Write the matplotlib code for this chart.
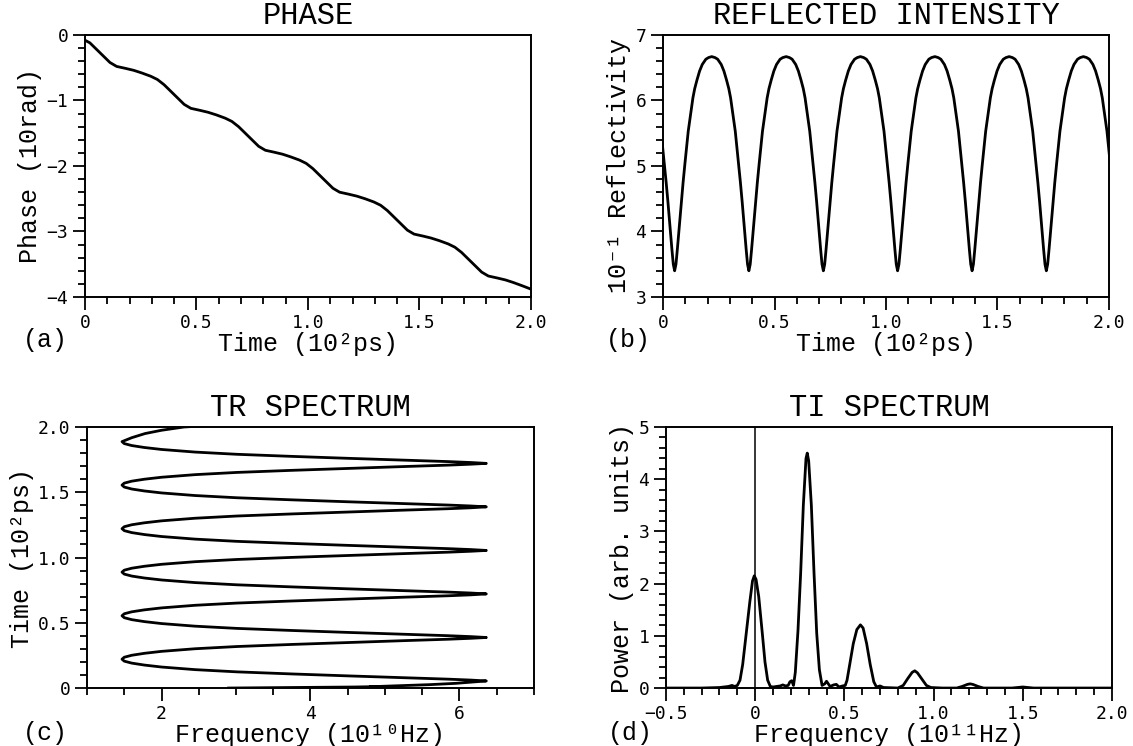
import matplotlib
matplotlib.use("Agg")
import matplotlib.pyplot as plt
from matplotlib.ticker import MultipleLocator

# ---------------- data ----------------
# (a) phase vs time
phase_time = [0.000, 0.022, 0.052, 0.082, 0.112, 0.142, 0.182, 0.219, 0.255, 0.295,
              0.325, 0.355, 0.385, 0.415, 0.445, 0.475, 0.515, 0.552, 0.589, 0.629,
              0.659, 0.689, 0.719, 0.749, 0.779, 0.809, 0.849, 0.886, 0.922, 0.962,
              0.992, 1.022, 1.052, 1.082, 1.112, 1.142, 1.182, 1.219, 1.256, 1.296,
              1.326, 1.356, 1.386, 1.416, 1.446, 1.476, 1.516, 1.552, 1.589, 1.629,
              1.659, 1.689, 1.719, 1.749, 1.779, 1.809, 1.849, 1.886, 1.922, 1.962,
              2.000]
phase_value = [-0.08, -0.12, -0.22, -0.32, -0.42, -0.48, -0.51, -0.54, -0.58, -0.63,
               -0.68, -0.76, -0.86, -0.96, -1.06, -1.12, -1.15, -1.18, -1.22, -1.27,
               -1.32, -1.40, -1.50, -1.60, -1.70, -1.76, -1.79, -1.82, -1.86, -1.91,
               -1.96, -2.04, -2.14, -2.24, -2.34, -2.40, -2.43, -2.46, -2.50, -2.55,
               -2.60, -2.68, -2.78, -2.88, -2.98, -3.04, -3.07, -3.10, -3.14, -3.19,
               -3.24, -3.32, -3.42, -3.52, -3.62, -3.68, -3.71, -3.74, -3.78, -3.83,
               -3.88]

# (b) reflectivity: one dip profile (offset from dip time, value) and the dip times
refl_offsets = [-0.1667, -0.152, -0.14, -0.124, -0.112, -0.10, -0.09, -0.082, -0.072,
                -0.061, -0.046, -0.038, -0.030, -0.019, -0.012, -0.006, 0.0,
                0.006, 0.012, 0.019, 0.030, 0.038, 0.046, 0.061, 0.072, 0.082,
                0.09, 0.10, 0.112, 0.124, 0.14, 0.152]
refl_profile = [6.67, 6.655, 6.63, 6.55, 6.45, 6.31, 6.18, 6.04, 5.80,
                5.53, 5.03, 4.75, 4.45, 4.00, 3.72, 3.50, 3.40,
                3.50, 3.72, 4.00, 4.45, 4.75, 5.03, 5.53, 5.80, 6.04,
                6.18, 6.31, 6.45, 6.55, 6.63, 6.655]
refl_dips = [0.052, 0.385, 0.719, 1.052, 1.386, 1.719, 2.052]

# (c) TR spectrum: one loop profile around the low-frequency turning point
tr_offsets = [-0.1667, -0.160, -0.153, -0.142, -0.128, -0.113, -0.097, -0.080,
              -0.060, -0.045, -0.030, -0.015, 0.0, 0.015, 0.030, 0.045, 0.060,
              0.080, 0.097, 0.113, 0.128, 0.142, 0.153, 0.160]
tr_profile = [6.36, 6.15, 5.85, 5.25, 4.51, 3.75, 3.01, 2.45,
              2.00, 1.77, 1.60, 1.50, 1.47, 1.50, 1.60, 1.77, 2.00,
              2.45, 3.01, 3.75, 4.51, 5.25, 5.85, 6.15]
tr_left_tips = [0.221, 0.554, 0.888, 1.221, 1.555]
tr_last_tip = 1.888
tr_start_time = [0.000, 0.004, 0.008, 0.012, 0.007, 0.010, 0.016, 0.026, 0.036, 0.045]
tr_start_freq = [2.90, 3.80, 4.60, 5.00, 5.10, 4.80, 5.10, 5.60, 5.95, 6.15]
tr_end_time = [1.918, 1.950, 1.975, 2.000, 2.010]
tr_end_freq = [1.60, 1.78, 2.00, 2.30, 2.60]

# (d) TI spectrum
ti_freq = [-0.50, -0.30, -0.20, -0.15, -0.13, -0.115, -0.10, -0.085, -0.07, -0.05,
           -0.03, -0.015, -0.005, 0.005, 0.02, 0.04, 0.055, 0.07, 0.085, 0.10,
           0.12, 0.14, 0.155, 0.17, 0.185, 0.195, 0.205, 0.215, 0.225, 0.24,
           0.255, 0.27, 0.285, 0.292, 0.30, 0.315, 0.33, 0.345, 0.36, 0.375,
           0.39, 0.40, 0.41, 0.42, 0.44, 0.455, 0.47, 0.49, 0.505, 0.515,
           0.53, 0.55, 0.57, 0.59, 0.605, 0.625, 0.645, 0.665, 0.68, 0.70,
           0.72, 0.80, 0.83, 0.855, 0.88, 0.895, 0.91, 0.935, 0.96, 0.985,
           1.05, 1.13, 1.16, 1.19, 1.205, 1.22, 1.25, 1.28, 1.44, 1.50,
           1.56, 2.00]
ti_power = [0.0, 0.0, 0.01, 0.03, 0.05, 0.03, 0.05, 0.15, 0.45, 1.05,
            1.65, 2.05, 2.15, 2.08, 1.75, 1.05, 0.50, 0.15, 0.03, 0.02,
            0.03, 0.04, 0.06, 0.04, 0.05, 0.12, 0.14, 0.05, 0.30, 1.10,
            2.20, 3.50, 4.40, 4.50, 4.35, 3.50, 2.20, 1.05, 0.35, 0.05,
            0.08, 0.13, 0.08, 0.03, 0.06, 0.07, 0.02, 0.04, 0.05, 0.15,
            0.45, 0.85, 1.12, 1.21, 1.15, 0.85, 0.45, 0.12, 0.02, 0.04,
            0.01, 0.0, 0.05, 0.18, 0.30, 0.33, 0.29, 0.17, 0.05, 0.01,
            0.0, 0.0, 0.03, 0.07, 0.08, 0.07, 0.03, 0.0, 0.0, 0.02,
            0.0, 0.0]

# ---------------- assemble periodic curves from the read profiles ----------------
refl_time, refl_value = [], []
for dip in refl_dips:
    refl_time += [dip + o for o in refl_offsets]
    refl_value += list(refl_profile)

tr_time, tr_freq = list(tr_start_time), list(tr_start_freq)
for tip in tr_left_tips:
    tr_time += [tip + o for o in tr_offsets]
    tr_freq += list(tr_profile)
half = [i for i, o in enumerate(tr_offsets) if o <= 0]
tr_time += [tr_last_tip + tr_offsets[i] for i in half]
tr_freq += [tr_profile[i] for i in half]
tr_time += tr_end_time
tr_freq += tr_end_freq

# ---------------- figure ----------------
LABEL_FONT = ["Liberation Mono", "DejaVu Sans Mono"]
TICK_FONT = ["DejaVu Sans Mono"]
LW = 2.0

fig = plt.figure(figsize=(11.33, 7.46), dpi=100)
axA = fig.add_axes([0.0750, 0.6019, 0.3936, 0.3512])
axB = fig.add_axes([0.5852, 0.6019, 0.3936, 0.3512])
axC = fig.add_axes([0.0768, 0.0777, 0.3945, 0.3499])
axD = fig.add_axes([0.5878, 0.0777, 0.3936, 0.3499])


def style(ax, title, xlabel, ylabel, xlim, ylim, xt, xtl, xminor, yt, ytl, yminor, letter, lx, ly):
    ax.set_xlim(*xlim)
    ax.set_ylim(*ylim)
    ax.set_xticks(xt)
    ax.set_xticklabels(xtl)
    ax.set_yticks(yt)
    ax.set_yticklabels(ytl)
    ax.xaxis.set_minor_locator(MultipleLocator(xminor))
    ax.yaxis.set_minor_locator(MultipleLocator(yminor))
    ax.tick_params(which="both", direction="out", top=False, right=False,
                   width=1.3, color="black", labelsize=13, pad=3)
    ax.tick_params(which="major", length=9)
    ax.tick_params(which="minor", length=5)
    for lab in ax.get_xticklabels() + ax.get_yticklabels():
        lab.set_family(TICK_FONT)
    for sp in ax.spines.values():
        sp.set_linewidth(1.4)
    ax.set_title(title, family=LABEL_FONT, fontsize=22, pad=8)
    ax.set_xlabel(xlabel, family=LABEL_FONT, fontsize=18, labelpad=0)
    ax.set_ylabel(ylabel, family=LABEL_FONT, fontsize=18, labelpad=3)
    fig.text(lx, ly, letter, family=LABEL_FONT, fontsize=18,
             ha="center", va="center")


axA.plot(phase_time, phase_value, color="black", lw=LW)
style(axA, "PHASE", "Time (10²ps)", "Phase (10rad)", (0, 2.0), (-4, 0),
      [0, 0.5, 1.0, 1.5, 2.0], ["0", "0.5", "1.0", "1.5", "2.0"], 0.1,
      [0, -1, -2, -3, -4], ["0", "−1", "−2", "−3", "−4"], 0.2,
      "(a)", 45 / 1133, 1 - 340 / 746)

axB.plot(refl_time, refl_value, color="black", lw=LW)
style(axB, "REFLECTED INTENSITY", "Time (10²ps)", "10⁻¹ Reflectivity", (0, 2.0), (3, 7),
      [0, 0.5, 1.0, 1.5, 2.0], ["0", "0.5", "1.0", "1.5", "2.0"], 0.1,
      [3, 4, 5, 6, 7], ["3", "4", "5", "6", "7"], 0.2,
      "(b)", 628 / 1133, 1 - 340 / 746)

axC.plot(tr_freq, tr_time, color="black", lw=LW)
style(axC, "TR SPECTRUM", "Frequency (10¹⁰Hz)", "Time (10²ps)", (1, 7), (0, 2.0),
      [2, 4, 6], ["2", "4", "6"], 0.5,
      [0, 0.5, 1.0, 1.5, 2.0], ["0", "0.5", "1.0", "1.5", "2.0"], 0.1,
      "(c)", 45 / 1133, 1 - 733 / 746)

axD.axvline(0, color="black", lw=1.1)
axD.plot(ti_freq, ti_power, color="black", lw=LW)
style(axD, "TI SPECTRUM", "Frequency (10¹¹Hz)", "Power (arb. units)", (-0.5, 2.0), (0, 5),
      [-0.5, 0, 0.5, 1.0, 1.5, 2.0], ["−0.5", "0", "0.5", "1.0", "1.5", "2.0"], 0.1,
      [0, 1, 2, 3, 4, 5], ["0", "1", "2", "3", "4", "5"], 0.2,
      "(d)", 630 / 1133, 1 - 733 / 746)

fig.savefig("out.png", dpi=100, facecolor="white")
